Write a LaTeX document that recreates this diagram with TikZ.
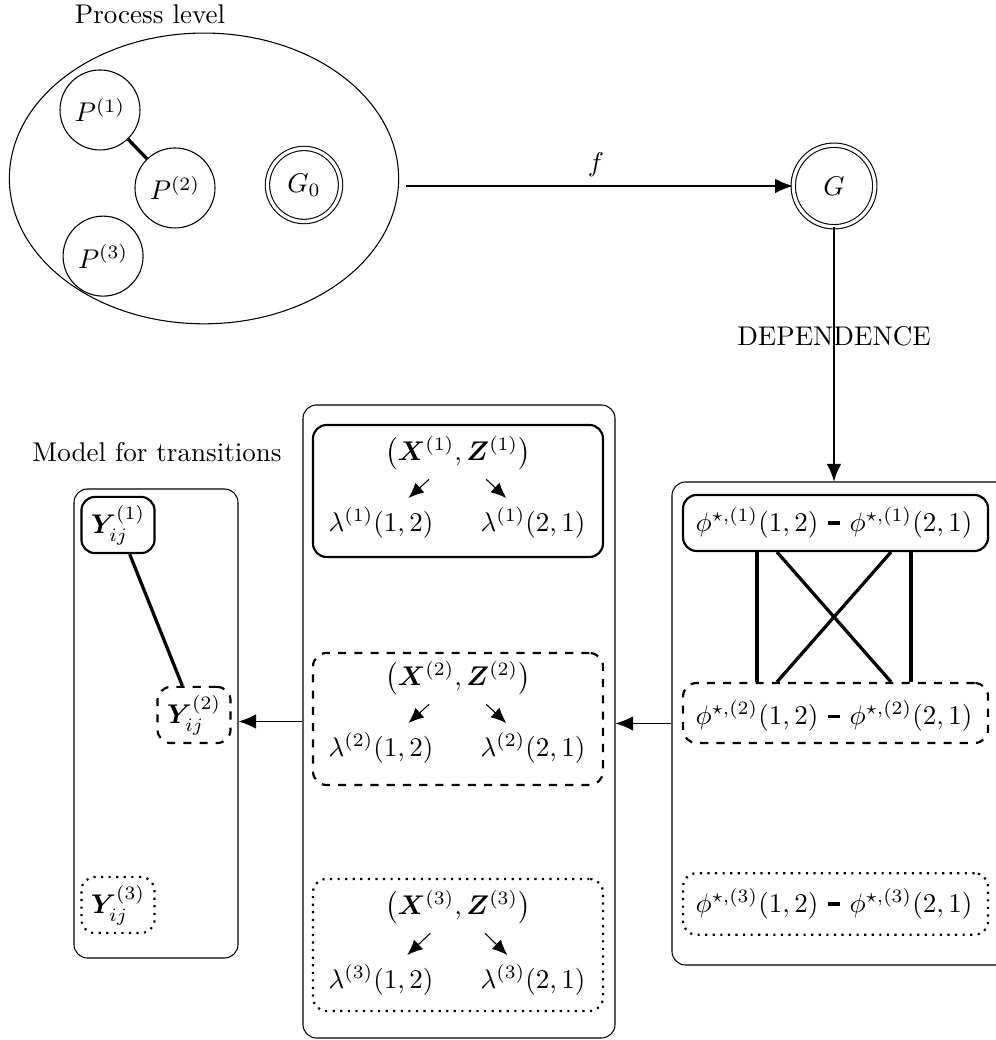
\documentclass[tikz,border=0pt]{standalone}
\usepackage{amsmath, amssymb, bm}
\usetikzlibrary{arrows.meta, positioning, shapes.geometric, calc}

\begin{document}
\begin{tikzpicture}[
            proc/.style={circle, draw, minimum size=1.04cm, inner sep=0pt},
            gnode/.style={circle, draw, double, double distance=1.2pt, inner sep=0pt},
            panel/.style={draw, rounded corners=5pt, inner sep=0pt},
            rowbox/.style={draw, thick, rounded corners=5pt, inner sep=0pt},
            bond/.style={very thick},
            flow/.style={-{Latex[length=2.3mm, width=1.9mm]}},
            split/.style={-{Latex[length=2mm, width=1.7mm]}}
        ]
            \useasboundingbox (0,0) rectangle (12.935,13.52);

            % Process level: the three processes and G_0
            \node (pltitle) at (1.95, 13.338) {Process level};
            \node[draw, ellipse, minimum width=5.06cm, minimum height=3.78cm, inner sep=0pt] (procs) at (2.652, 11.2) {};
            \node[proc] (p1) at (1.30, 12.09) {$P^{(1)}$};
            \node[proc] (p2) at (2.275, 11.076) {$P^{(2)}$};
            \node[proc] (p3) at (1.34, 10.19) {$P^{(3)}$};
            \node[gnode, minimum size=0.95cm] (g0) at (3.952, 11.115) {$G_0$};
            \draw[bond] (p1) -- (p2);

            % Dependence graph G
            \node[gnode, minimum size=1.06cm] (g) at (10.842, 11.102) {$G$};
            \draw[flow, shorten <=0.09cm] (procs.east |- g) -- node[above] {$f$} (g);

            % Right panel: the phi terms
            \node[panel, minimum width=4.6cm, minimum height=6.279cm] (rbox) at (11.036, 4.1145) {};
            \draw[flow] (g) -- node[pos=0.43] {DEPENDENCE} (rbox.north -| g);

            \node[rowbox, minimum width=3.965cm, minimum height=0.728cm] (row1) at (10.862, 6.721) {};
            \node[rowbox, dashed, minimum width=3.965cm, minimum height=0.78cm] (row2) at (10.862, 4.251) {};
            \node[rowbox, dotted, minimum width=3.965cm, minimum height=0.8cm] (row3) at (10.862, 1.768) {};

            \node (a1) at (9.841, 6.721) {$\phi^{\star,(1)}(1,2)$};
            \node (b1) at (11.843, 6.721) {$\phi^{\star,(1)}(2,1)$};
            \node (a2) at (9.841, 4.21) {$\phi^{\star,(2)}(1,2)$};
            \node (b2) at (11.843, 4.21) {$\phi^{\star,(2)}(2,1)$};
            \node (a3) at (9.841, 1.768) {$\phi^{\star,(3)}(1,2)$};
            \node (b3) at (11.843, 1.768) {$\phi^{\star,(3)}(2,1)$};
            \draw[bond] (a1) -- (b1);
            \draw[bond] (a2) -- (b2);
            \draw[bond] (a3) -- (b3);

            % links between the first two rows
            \draw[bond] (row1.south -| a1) -- (row2.north -| a1);
            \draw[bond] (row1.south -| b1) -- (row2.north -| b1);
            \draw[bond] ($(row1.south -| a1)+(0.26,0)$) -- ($(row2.north -| b1)-(0.26,0)$);
            \draw[bond] ($(row1.south -| b1)-(0.26,0)$) -- ($(row2.north -| a1)+(0.26,0)$);

            % Middle panel: intensities
            \node[panel, minimum width=4.056cm, minimum height=8.229cm] (mbox) at (5.967, 4.1405) {};
            \node[rowbox, minimum width=3.77cm, minimum height=1.716cm] (int1) at (5.954, 7.137) {};
            \node[rowbox, dashed, minimum width=3.77cm, minimum height=1.716cm] (int2) at (5.954, 4.173) {};
            \node[rowbox, dotted, minimum width=3.77cm, minimum height=1.716cm] (int3) at (5.954, 1.235) {};

            \node (xz1) at (5.954, 7.631) {$\left(\bm{X}^{(1)}, \bm{Z}^{(1)}\right)$};
            \node (la1) at (4.953, 6.721) {$\lambda^{(1)}(1,2)$};
            \node (lb1) at (6.929, 6.721) {$\lambda^{(1)}(2,1)$};
            \node (xz2) at (5.954, 4.706) {$\left(\bm{X}^{(2)}, \bm{Z}^{(2)}\right)$};
            \node (la2) at (4.953, 3.796) {$\lambda^{(2)}(1,2)$};
            \node (lb2) at (6.929, 3.796) {$\lambda^{(2)}(2,1)$};
            \node (xz3) at (5.954, 1.729) {$\left(\bm{X}^{(3)}, \bm{Z}^{(3)}\right)$};
            \node (la3) at (4.953, 0.78) {$\lambda^{(3)}(1,2)$};
            \node (lb3) at (6.929, 0.78) {$\lambda^{(3)}(2,1)$};
            \draw[split] (xz1) -- (la1);
            \draw[split] (xz1) -- (lb1);
            \draw[split] (xz2) -- (la2);
            \draw[split] (xz2) -- (lb2);
            \draw[split] (xz3) -- (la3);
            \draw[split] (xz3) -- (lb3);

            % Left panel: transitions
            \node (mtitle) at (2.041, 7.644) {Model for transitions};
            \node[panel, minimum width=2.132cm, minimum height=6.097cm] (lbox) at (2.028, 4.1145) {};
            \node[rowbox, minimum width=0.95cm, minimum height=0.73cm] (y1) at (1.534, 6.695) {$\bm{Y}_{ij}^{(1)}$};
            \node[rowbox, dashed, minimum width=0.95cm, minimum height=0.73cm] (y2) at (2.522, 4.225) {$\bm{Y}_{ij}^{(2)}$};
            \node[rowbox, dotted, minimum width=0.95cm, minimum height=0.73cm] (y3) at (1.534, 1.755) {$\bm{Y}_{ij}^{(3)}$};
            \draw[bond] (y1) -- (y2);

            % Passing down from panel to panel
            \draw[flow] (rbox.west) -- (rbox.west -| mbox.east);
            \draw[flow] (mbox.west) -- (mbox.west -| lbox.east);
        \end{tikzpicture}
\end{document}
